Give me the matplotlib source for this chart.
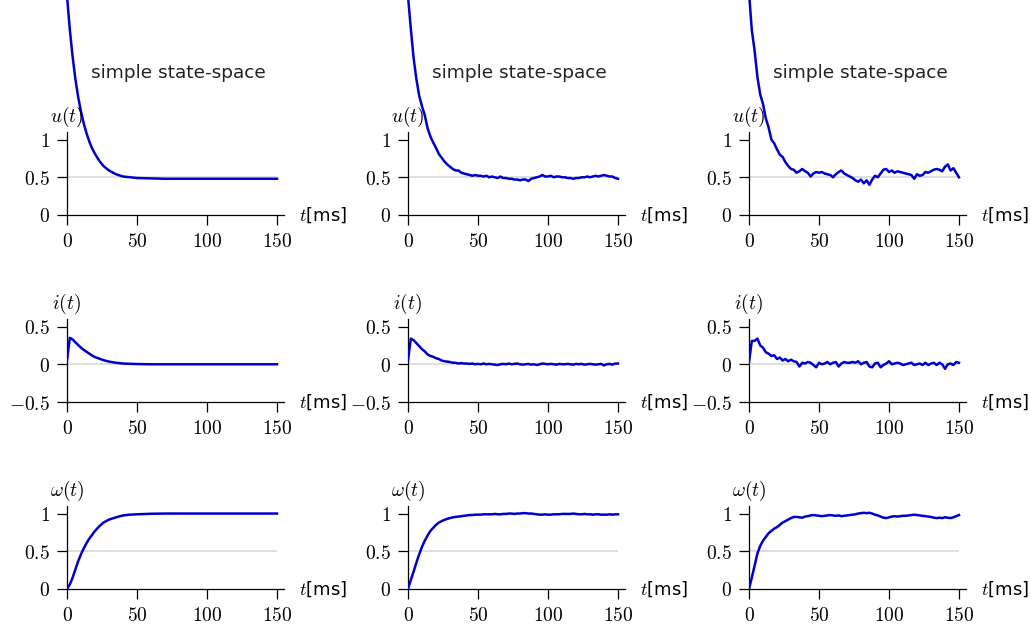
import numpy as np
import matplotlib
matplotlib.use('Agg')
import matplotlib.pyplot as plt

plt.rcParams['mathtext.fontset'] = 'cm'
plt.rcParams['font.family'] = 'DejaVu Sans'

# ---- data -----------------------------------------------------------------
# noise-free model (left column), sparse time grid
t_sm = [0, 2, 4, 6, 8, 10, 12, 14, 16, 18, 20, 23, 26, 30, 35, 40, 45, 50, 60, 70, 80, 100, 120, 150]
u_sm = [2.90, 2.46, 2.10, 1.80, 1.56, 1.37, 1.21, 1.08, 0.97, 0.88, 0.81, 0.72,
        0.65, 0.59, 0.54, 0.51, 0.50, 0.49, 0.485, 0.48, 0.48, 0.48, 0.48, 0.48]
i_sm = [0.05, 0.35, 0.33, 0.29, 0.255, 0.22, 0.19, 0.165, 0.14, 0.115, 0.095, 0.075,
        0.055, 0.035, 0.02, 0.01, 0.006, 0.003, 0.0, 0.0, 0.0, 0.0, 0.0, 0.0]
w_sm = [0.0, 0.06, 0.15, 0.26, 0.37, 0.46, 0.54, 0.61, 0.67, 0.72, 0.77, 0.83,
        0.88, 0.92, 0.95, 0.975, 0.985, 0.99, 0.997, 1.0, 1.0, 1.0, 1.0, 1.0]

# noisy runs (middle and right column), sampled every 2 ms
t_ns = list(range(0, 151, 2))

u_mid = [2.90, 2.47, 2.08, 1.80, 1.58, 1.44, 1.32, 1.15, 1.04, 0.96, 0.89, 0.81, 0.76, 0.71, 0.67, 0.64,
         0.61, 0.59, 0.59, 0.56, 0.55, 0.54, 0.53, 0.52, 0.53, 0.52, 0.52, 0.51, 0.52, 0.50, 0.51, 0.50,
         0.49, 0.51, 0.49, 0.49, 0.48, 0.48, 0.47, 0.47, 0.46, 0.47, 0.47, 0.45, 0.48, 0.49, 0.50, 0.51,
         0.53, 0.51, 0.51, 0.52, 0.50, 0.51, 0.51, 0.50, 0.50, 0.49, 0.49, 0.48, 0.49, 0.49, 0.50, 0.50,
         0.51, 0.50, 0.51, 0.52, 0.51, 0.52, 0.53, 0.52, 0.51, 0.51, 0.49, 0.48]
i_mid = [0.05, 0.34, 0.32, 0.28, 0.24, 0.20, 0.17, 0.13, 0.11, 0.10, 0.08, 0.07, 0.05, 0.04, 0.035, 0.03,
         0.02, 0.02, 0.01, 0.015, 0.01, 0.01, 0.005, 0.01, 0.0, 0.005, 0.0, 0.01, 0.0, 0.005, 0.0, -0.005,
         -0.01, 0.0, 0.005, 0.0, 0.01, 0.0, 0.005, 0.01, 0.0, -0.005, 0.0, 0.005, -0.005, 0.0, -0.01, 0.0,
         0.01, 0.005, 0.0, 0.005, 0.0, -0.005, 0.005, 0.0, 0.0, 0.005, 0.0, -0.005, 0.005, 0.0, 0.005, -0.005,
         0.0, 0.005, 0.0, -0.005, 0.0, 0.005, -0.015, 0.0, 0.005, -0.005, 0.01, 0.01]
w_mid = [0.0, 0.12, 0.23, 0.35, 0.46, 0.56, 0.64, 0.71, 0.77, 0.81, 0.85, 0.88, 0.90, 0.915, 0.93, 0.94,
         0.95, 0.955, 0.96, 0.965, 0.97, 0.975, 0.98, 0.98, 0.985, 0.985, 0.985, 0.99, 0.99, 0.99, 0.99, 0.995,
         0.99, 0.99, 0.995, 0.995, 1.0, 1.0, 0.995, 1.0, 1.0, 1.005, 1.005, 1.0, 1.0, 0.995, 0.99, 0.985,
         0.985, 0.99, 0.985, 0.985, 0.99, 0.99, 0.99, 0.995, 0.995, 0.995, 0.995, 1.0, 0.995, 0.99, 0.99, 0.995,
         0.99, 0.99, 0.985, 0.99, 0.99, 0.985, 0.985, 0.985, 0.99, 0.985, 0.99, 0.99]

u_right = [2.95, 2.45, 2.18, 1.83, 1.60, 1.47, 1.28, 1.16, 1.00, 0.95, 0.87, 0.80, 0.77, 0.70, 0.65, 0.61,
           0.60, 0.56, 0.58, 0.61, 0.58, 0.56, 0.51, 0.55, 0.57, 0.56, 0.57, 0.55, 0.54, 0.53, 0.50, 0.54,
           0.57, 0.59, 0.55, 0.53, 0.51, 0.49, 0.46, 0.44, 0.47, 0.42, 0.46, 0.40, 0.47, 0.52, 0.50, 0.55,
           0.60, 0.61, 0.57, 0.59, 0.56, 0.58, 0.57, 0.56, 0.55, 0.54, 0.53, 0.48, 0.54, 0.52, 0.53, 0.57,
           0.56, 0.58, 0.60, 0.61, 0.60, 0.58, 0.64, 0.67, 0.59, 0.62, 0.56, 0.50]
i_right = [0.03, 0.31, 0.31, 0.34, 0.25, 0.22, 0.16, 0.14, 0.11, 0.12, 0.07, 0.09, 0.05, 0.07, 0.04, 0.06,
           0.04, 0.03, -0.03, 0.02, 0.01, 0.03, 0.02, -0.01, -0.04, 0.02, 0.0, 0.01, 0.03, 0.0, 0.02, 0.03,
           -0.03, 0.01, 0.03, 0.02, 0.02, 0.03, 0.02, 0.04, 0.0, 0.02, 0.03, -0.03, -0.04, 0.01, 0.02, -0.04,
           -0.01, 0.01, 0.04, 0.0, 0.01, 0.02, 0.01, -0.01, 0.0, 0.01, 0.02, -0.01, 0.0, 0.01, -0.01, 0.02,
           -0.01, 0.01, 0.02, -0.01, 0.02, 0.0, -0.06, 0.0, 0.01, -0.01, 0.03, 0.02]
w_right = [0.0, 0.15, 0.31, 0.47, 0.57, 0.64, 0.69, 0.74, 0.77, 0.80, 0.82, 0.85, 0.88, 0.90, 0.92, 0.94,
           0.955, 0.955, 0.95, 0.945, 0.96, 0.965, 0.975, 0.98, 0.975, 0.97, 0.965, 0.97, 0.975, 0.98, 0.975, 0.97,
           0.975, 0.965, 0.97, 0.975, 0.98, 0.985, 0.99, 1.0, 1.005, 1.01, 1.005, 1.01, 1.0, 0.985, 0.975, 0.96,
           0.945, 0.94, 0.95, 0.96, 0.965, 0.96, 0.965, 0.97, 0.97, 0.975, 0.98, 0.985, 0.98, 0.975, 0.97, 0.965,
           0.96, 0.955, 0.945, 0.94, 0.945, 0.94, 0.95, 0.945, 0.94, 0.95, 0.965, 0.98]

columns = [
    (t_sm, u_sm, i_sm, w_sm),
    (t_ns, u_mid, i_mid, w_mid),
    (t_ns, u_right, i_right, w_right),
]
col_title = 'simple state-space'
row_names = [r'$u(t)$', r'$i(t)$', r'$\omega(t)$']
row_ylim = [(0, 1.1), (-0.5, 0.6), (0, 1.1)]
row_ticks = [[0, 0.5, 1], [-0.5, 0, 0.5], [0, 0.5, 1]]
row_ref = [0.5, 0.0, 0.5]
x_ticks = [0, 50, 100, 150]

# ---- layout (pixels of a 1031x624 canvas) ----------------------------------
W, H = 1031, 624
fig = plt.figure(figsize=(W / 100, H / 100), dpi=100)
col_left = [67, 408, 749]
row_bottom = [215, 402, 589]
ax_w, ax_h = 217, 83
blue = (0, 0, 0.8)

for c, (tt, uu, ii, ww) in enumerate(columns):
    for r, yy in enumerate([uu, ii, ww]):
        ax = fig.add_axes([col_left[c] / W, (H - row_bottom[r]) / H, ax_w / W, ax_h / H])
        ax.hlines(row_ref[r], tt[0], tt[-1], color='#d8d8d8', lw=1.2, zorder=1)
        # u(t) starts far above the axes and is left unclipped like the original
        ax.plot(tt, yy, color=blue, lw=1.8, zorder=3, clip_on=(r != 0))
        ax.set_xlim(0, 155)
        ax.set_ylim(*row_ylim[r])
        for s in ['top', 'right']:
            ax.spines[s].set_visible(False)
        for s in ['left', 'bottom']:
            ax.spines[s].set_linewidth(0.9)
        ax.set_xticks(x_ticks)
        ax.set_xticklabels([f'${v}$' for v in x_ticks])
        ax.set_yticks(row_ticks[r])
        ax.set_yticklabels([f'${v:g}$' for v in row_ticks[r]])
        ax.tick_params(direction='out', length=7, width=0.9, pad=5, labelsize=14)
        ax.annotate(row_names[r], xy=(0, 1), xycoords='axes fraction',
                    xytext=(0, 10.5), textcoords='offset points',
                    ha='center', va='center', fontsize=14)
        ax.annotate(r'$t$[ms]', xy=(1, 0), xycoords='axes fraction',
                    xytext=(11, 0), textcoords='offset points',
                    ha='left', va='center', fontsize=13)
        if r == 0:
            ax.annotate(col_title, xy=(0.5, 1), xycoords='axes fraction',
                        xytext=(2, 42.5), textcoords='offset points',
                        ha='center', va='center', fontsize=13.3, color='#222222')

fig.savefig('out.png', dpi=100)
